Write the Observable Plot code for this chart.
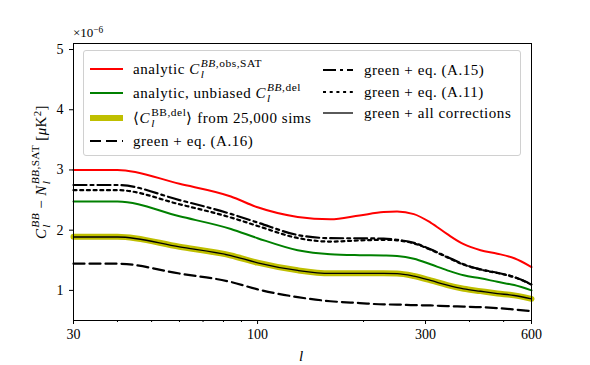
<!DOCTYPE html>
<html><head><meta charset="utf-8">
<script src="https://cdn.jsdelivr.net/npm/d3@7"></script>
<script src="https://cdn.jsdelivr.net/npm/@observablehq/plot@0.6"></script>
<style>
body{margin:0;background:#fff;}
#wrap, #wrap *, #wrap svg text, #wrap svg tspan{font-family:'Liberation Serif', 'Times New Roman', serif !important;}
#wrap{position:relative;width:590px;height:365px;color:#000;}
#wrap svg.plot{position:absolute;left:0;top:0;}
.ss{display:inline-block;vertical-align:-0.34em;line-height:0.95;font-size:0.76em;margin-left:1px;}
.ss span{display:block;}
.abs{position:absolute;white-space:nowrap;font-size:14px;line-height:1;}
#legend{position:absolute;left:83px;top:50px;width:438px;height:106px;border:1px solid #d0d0d0;border-radius:3px;background:rgba(255,255,255,0.8);box-sizing:border-box;}
.lrow{position:absolute;display:flex;align-items:center;font-size:15px;letter-spacing:0.55px;white-space:nowrap;}
.lrow svg{margin-right:10px;}
</style></head><body><div id="wrap"></div>
<script>
// ---- data (values in units of 1e-6 uK^2) ----
const ells    = [30, 40, 60, 84, 100, 130, 161, 195, 228, 249, 278, 310, 346, 385, 430, 480, 536, 600];
const redObs  = [3.00, 3.00, 2.77, 2.56, 2.38, 2.22, 2.18, 2.245, 2.30, 2.31, 2.267, 2.127, 1.933, 1.767, 1.667, 1.61, 1.533, 1.388];
const greenDel= [2.477, 2.477, 2.23, 2.02, 1.867, 1.667, 1.60, 1.585, 1.58, 1.572, 1.527, 1.433, 1.333, 1.25, 1.20, 1.143, 1.088, 1.00];
const simsDel = [1.89, 1.89, 1.725, 1.58, 1.46, 1.333, 1.283, 1.283, 1.283, 1.28, 1.238, 1.167, 1.088, 1.027, 0.988, 0.95, 0.917, 0.86];
const eqA16   = [1.443, 1.443, 1.28, 1.14, 1.017, 0.888, 0.82, 0.79, 0.767, 0.765, 0.755, 0.75, 0.738, 0.73, 0.722, 0.705, 0.683, 0.655];
const eqA15   = [2.75, 2.75, 2.50, 2.27, 2.127, 1.92, 1.867, 1.865, 1.86, 1.84, 1.79, 1.683, 1.555, 1.433, 1.35, 1.293, 1.222, 1.10];
const eqA11   = [2.665, 2.665, 2.43, 2.21, 2.07, 1.87, 1.81, 1.83, 1.84, 1.83, 1.78, 1.675, 1.548, 1.427, 1.345, 1.288, 1.218, 1.095];
const allCorr = [1.887, 1.887, 1.722, 1.578, 1.458, 1.331, 1.281, 1.281, 1.281, 1.278, 1.236, 1.165, 1.086, 1.025, 0.986, 0.948, 0.915, 0.858];
const xTicks  = [30, 100, 300, 600];
const xMinor  = [40, 50, 60, 70, 80, 90, 200, 400, 500];
const yTicks  = [1, 2, 3, 4, 5];

const styles = {
  red:   {stroke:"#ff0000", strokeWidth:2},
  green: {stroke:"#008000", strokeWidth:2},
  sims:  {stroke:"#bfbf00", strokeWidth:6},
  a16:   {stroke:"#000", strokeWidth:2.2, strokeDasharray:"11,5"},
  a15:   {stroke:"#000", strokeWidth:2.2, strokeDasharray:"13,4,3,4"},
  a11:   {stroke:"#000", strokeWidth:2.2, strokeDasharray:"3,3.7"},
  all:   {stroke:"#000", strokeWidth:1.3}
};
const series = [["red", redObs], ["green", greenDel], ["sims", simsDel], ["a16", eqA16], ["a15", eqA15], ["a11", eqA11], ["all", allCorr]];
const rows = k => ells.map((l, i) => ({l, v: series.find(s => s[0] === k)[1][i]}));

const font = "Liberation Serif, serif";
const chart = Plot.plot({
  width: 590, height: 365,
  marginLeft: 73, marginRight: 59, marginTop: 43, marginBottom: 45,
  x: {type: "log", domain: [30, 600]},
  y: {domain: [0.5, 5.1]},
  style: {fontFamily: font, fontSize: "14px", color: "#000", background: "transparent", overflow: "visible"},
  marks: [
    ...series.map(([k]) => Plot.lineY(rows(k), {x: "l", y: "v", curve: "monotone-x", ...styles[k]})),
    Plot.axisX({ticks: xTicks, tickSize: 4, tickPadding: 5, tickFormat: d => String(d), label: null, fontSize: 14}),
    Plot.axisX({ticks: xMinor, tickSize: 2, tickFormat: () => "", label: null}),
    Plot.axisY({ticks: yTicks, tickSize: 4, tickPadding: 6, tickFormat: d => String(d), label: null, fontSize: 14}),
    Plot.frame({stroke: "#000", strokeWidth: 1})
  ]
});
chart.classList.add("plot");
const wrap = document.getElementById("wrap");
wrap.appendChild(chart);

function m(base, sup, sub) {
  return `<i>${base}</i><span class="ss"><span>${sup}</span><span><i>${sub}</i></span></span>`;
}
function add(html, css) {
  const d = document.createElement("div");
  d.className = "abs";
  d.innerHTML = html;
  Object.assign(d.style, css);
  wrap.appendChild(d);
  return d;
}
// offset exponent
add(`×10<sup style="font-size:0.72em;vertical-align:0.45em">−6</sup>`, {left: "73px", top: "26px", fontSize: "13px"});
// x label
add(`<i>l</i>`, {left: "299px", top: "349px", fontSize: "15px"});
// y label
const yl = add(`${m("C", "<i>BB</i>", "l")} − ${m("N", "<i>BB</i>,SAT", "l")} [<i>μ</i>K<sup style="font-size:0.72em;vertical-align:0.45em">2</sup>]`, {fontSize: "15px", letterSpacing: "0.4px"});
yl.style.left = "41px"; yl.style.top = "172px";
yl.style.transform = "translate(-50%,-50%) rotate(-90deg)";

// legend
const lg = document.createElement("div");
lg.id = "legend";
wrap.appendChild(lg);
function handle(k, w) {
  const s = styles[k];
  return `<svg width="${w}" height="10"><line x1="0" x2="${w}" y1="5" y2="5" stroke="${s.stroke}" stroke-width="${s.strokeWidth}" ${s.strokeDasharray ? `stroke-dasharray="${s.strokeDasharray}"` : ""}/></svg>`;
}
const legendItems = [
  ["red",   `analytic ${m("C", "<i>BB</i>,obs,SAT", "l")}`, 6, 18, 33],
  ["green", `analytic, unbiased ${m("C", "<i>BB</i>,del", "l")}`, 6, 42, 33],
  ["sims",  `⟨${m("C", "BB,del", "l")}⟩ from 25,000 sims`, 6, 67, 33],
  ["a16",   `green + eq. (A.16)`, 6, 90, 33],
  ["a15",   `green + eq. (A.15)`, 239, 19, 30],
  ["a11",   `green + eq. (A.11)`, 239, 41, 30],
  ["all",   `green + all corrections`, 239, 62, 30]
];
for (const [k, html, x, yc, w] of legendItems) {
  const r = document.createElement("div");
  r.className = "lrow";
  r.innerHTML = handle(k, w) + `<span style="margin-left:${w === 30 ? 1 : 0}px">${html}</span>`;
  r.style.left = x + "px";
  r.style.top = (yc - 10) + "px";
  r.style.height = "20px";
  lg.appendChild(r);
}
</script></body></html>
